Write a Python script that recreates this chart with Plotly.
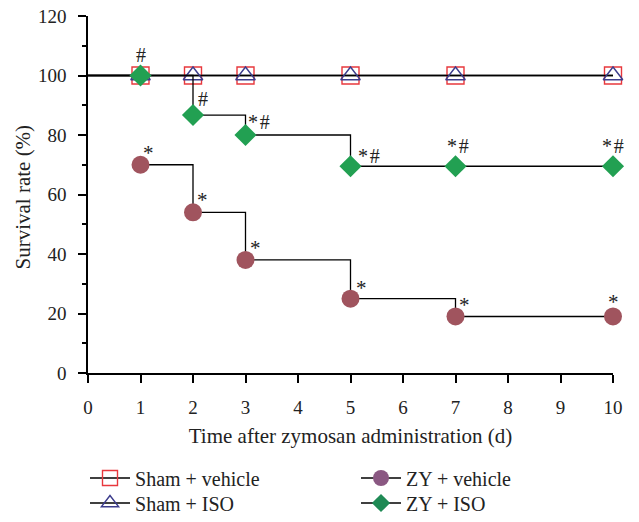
import plotly.graph_objects as go

# ---------------- data ----------------
days = [1, 2, 3, 5, 7, 10]
start_day = 0
start_survival = 100
sham_vehicle = [100, 100, 100, 100, 100, 100]
sham_iso = [100, 100, 100, 100, 100, 100]
zy_vehicle = [70, 54, 38, 25, 19, 19]
zy_iso = [100, 86.7, 80, 69.5, 69.5, 69.5]
zy_vehicle_sig = ["*", "*", "*", "*", "*", "*"]
zy_iso_sig = ["#", "#", "*#", "*#", "*#", "*#"]
x_ticks = [0, 1, 2, 3, 4, 5, 6, 7, 8, 9, 10]
y_ticks = [0, 20, 40, 60, 80, 100, 120]
names = ["Sham + vehicle", "Sham + ISO", "ZY + vehicle", "ZY + ISO"]
x_title = "Time after zymosan administration (d)"
y_title = "Survival rate (%)"

# ---------------- style ----------------
FONT = "Liberation Serif, Times New Roman, DejaVu Serif, serif"
RED = "#e8383d"
NAVY = "#3c3c8c"
CIRCLE = "#a0545e"
DIAMOND = "#22a052"
CIRCLE_LEG = "#8a5882"
DIAMOND_LEG = "#1f8a55"

# page has an 8px body margin on each side; make the figure fit exactly
W, H = 623, 506

fig = go.Figure()

series = [
    (sham_vehicle, dict(symbol="square-open", size=17, color=RED, line=dict(width=1.4, color=RED))),
    (sham_iso, dict(symbol="triangle-up-open", size=17, color=NAVY, line=dict(width=1.4, color=NAVY))),
    (zy_vehicle, dict(symbol="circle", size=18, color=CIRCLE, line=dict(width=0))),
    (zy_iso, dict(symbol="diamond", size=17, color=DIAMOND, line=dict(width=0))),
]

# initial segment from day 0
for vals, mk in series:
    fig.add_trace(go.Scatter(
        x=[start_day, days[0]], y=[start_survival, start_survival],
        mode="lines", line=dict(color="black", width=1.3),
        showlegend=False, hoverinfo="skip", cliponaxis=False))

for vals, mk in series:
    fig.add_trace(go.Scatter(
        x=days, y=vals, mode="lines+markers", line=dict(color="black", width=1.3, shape="hv"),
        marker=mk, showlegend=False, cliponaxis=False))

# legend entries (one legend per entry for exact placement)
leg_markers = [
    dict(symbol="square-open", size=15, color=RED, line=dict(width=1.4, color=RED)),
    dict(symbol="triangle-up-open", size=15, color=NAVY, line=dict(width=1.4, color=NAVY)),
    dict(symbol="circle", size=16, color=CIRCLE_LEG, line=dict(width=0)),
    dict(symbol="diamond", size=14, color=DIAMOND_LEG, line=dict(width=0)),
]
leg_ids = ["legend", "legend2", "legend3", "legend4"]
for nm, mk, lid in zip(names, leg_markers, leg_ids):
    fig.add_trace(go.Scatter(
        x=[None], y=[None], mode="lines+markers", name=nm,
        line=dict(color="black", width=1.3), marker=mk, legend=lid))

# significance annotations
veh_shift = [(8, 12), (9, 12), (10, 12), (11, 11), (9, 11), (0, 14)]
iso_shift = [(0, 21), (10, 16), (13, 13), (18, 10), (2, 20), (0, 20)]
for d, v, s, (dx, dy) in zip(days, zy_vehicle, zy_vehicle_sig, veh_shift):
    fig.add_annotation(x=d, y=v, text=s, showarrow=False, xshift=dx, yshift=dy,
                       font=dict(family=FONT, size=21, color="#222"))
for d, v, s, (dx, dy) in zip(days, zy_iso, zy_iso_sig, iso_shift):
    fig.add_annotation(x=d, y=v, text=s.replace("*#", "*\u200a#"), showarrow=False, xshift=dx, yshift=dy,
                       font=dict(family=FONT, size=20, color="#222"))

# y-axis title
fig.add_annotation(x=0, y=0.5, xref="paper", yref="paper", text=y_title, textangle=-90,
                   showarrow=False, xanchor="center", yanchor="middle", xshift=-66, yshift=-3,
                   font=dict(family=FONT, size=21, color="#222"))

def leg(x, y):
    return dict(x=x, y=y, xref="container", yref="container", xanchor="left", yanchor="middle",
                orientation="v", font=dict(family=FONT, size=20, color="#222"),
                bgcolor="rgba(0,0,0,0)", tracegroupgap=0, itemwidth=40)

fig.update_layout(
    template="none",
    width=W, height=H,
    margin=dict(l=80, r=18, t=8, b=141, autoexpand=False),
    paper_bgcolor="white", plot_bgcolor="white",
    font=dict(family=FONT, size=19, color="#222"),
    xaxis=dict(range=[0, 10], tickvals=x_ticks, ticktext=[str(t) for t in x_ticks],
               automargin=True,
               showgrid=False, zeroline=False, showline=True, linecolor="black", linewidth=1.5,
               ticks="outside", ticklen=8, tickwidth=1.5, tickcolor="black",
               ticklabelstandoff=8, ticklabeloverflow="allow",
               title=dict(text=x_title, standoff=12, font=dict(family=FONT, size=21)),
               tickfont=dict(family=FONT, size=19)),
    yaxis=dict(range=[0, 120], tickvals=y_ticks,
               automargin=True,
               showgrid=False, zeroline=False, showline=True, linecolor="black", linewidth=1.5,
               ticks="outside", ticklen=8, tickwidth=1.5, tickcolor="black",
               ticklabelstandoff=8, ticklabeloverflow="allow",
               minor=dict(dtick=10, ticks="outside", ticklen=4, tickwidth=1.5, tickcolor="black", showgrid=False),
               tickfont=dict(family=FONT, size=19)),
    legend=leg(0.1236, 1 - 470 / H),
    legend2=leg(0.1236, 1 - 495 / H),
    legend3=leg(0.5586, 1 - 470 / H),
    legend4=leg(0.5586, 1 - 495 / H),
)

fig.write_html("out.html")
